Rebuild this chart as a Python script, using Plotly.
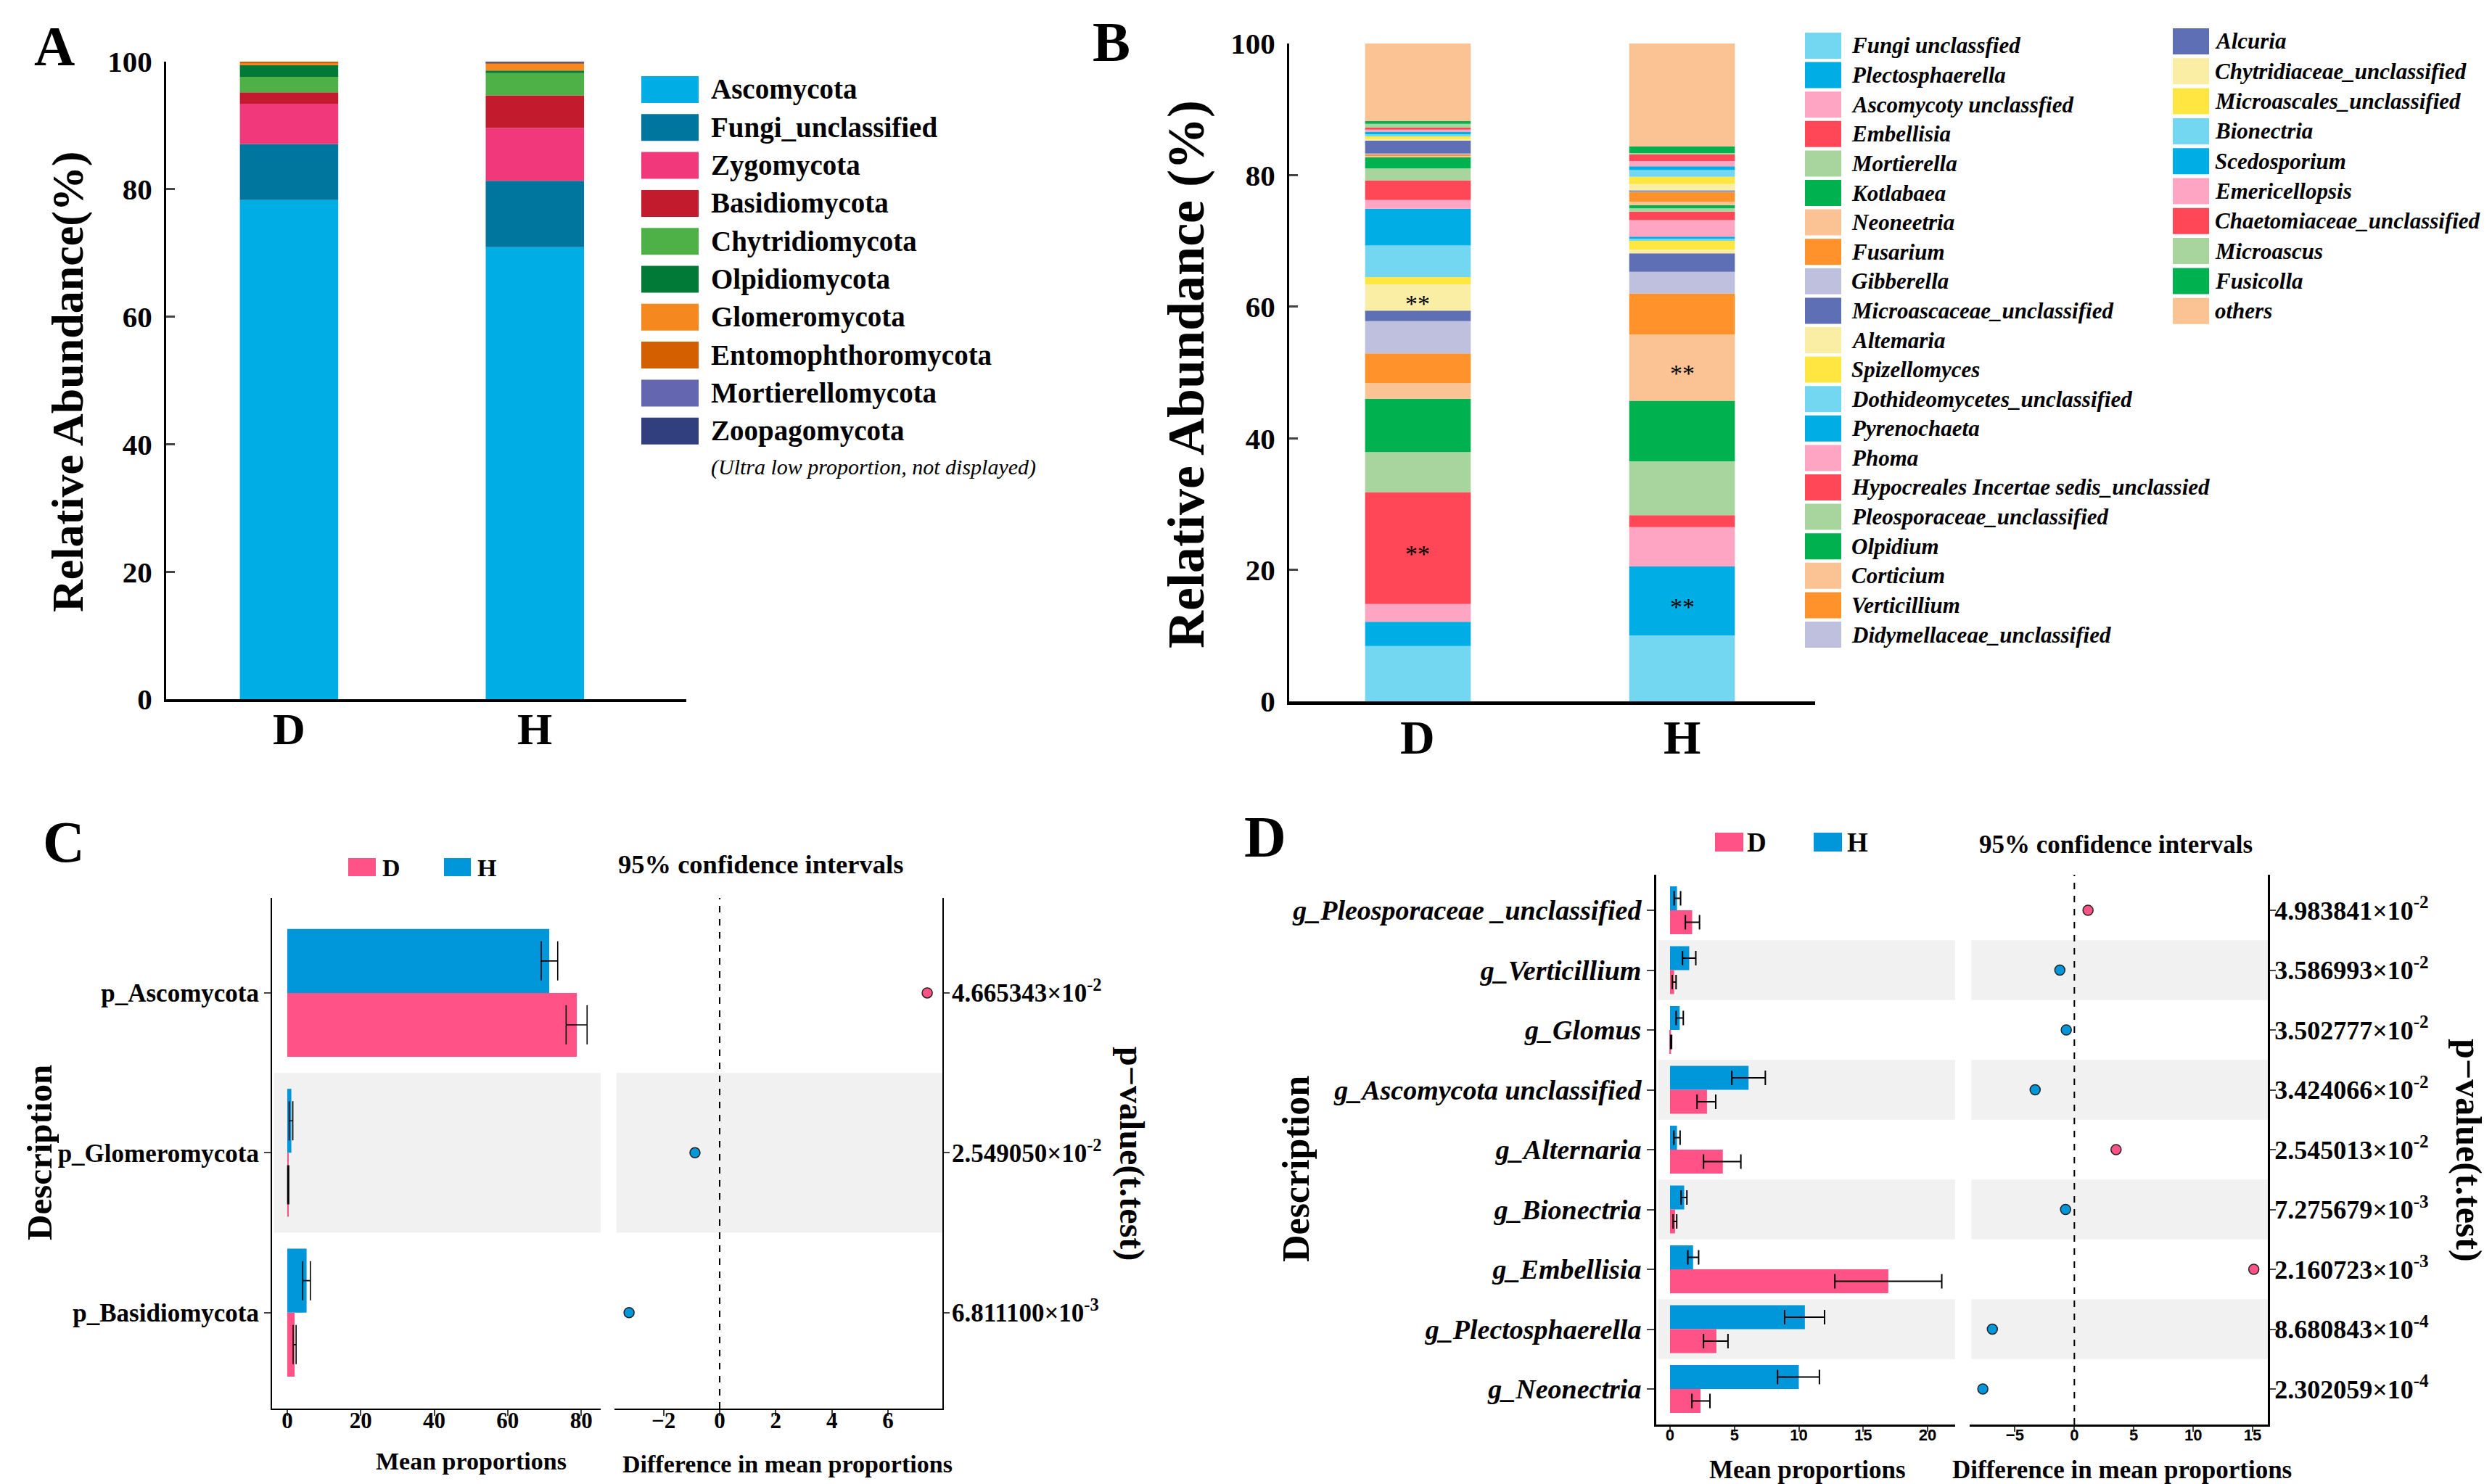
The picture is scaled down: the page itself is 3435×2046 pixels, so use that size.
import numpy as np
import plotly.graph_objects as go

W, H = 3435, 2046
SERIF = "Liberation Serif"
SANS = "Liberation Sans"

# ---------------- data ----------------
groups = ["D", "H"]

# Panel A: phylum-level relative abundance (%)
phyla = ["Ascomycota", "Fungi_unclassified", "Zygomycota", "Basidiomycota", "Chytridiomycota",
         "Olpidiomycota", "Glomeromycota", "Entomophthoromycota", "Mortierellomycota", "Zoopagomycota"]
phyla_colors = ["#00AEE6", "#00759E", "#F0387A", "#C21B2E", "#4DB148",
                "#007A36", "#F5881F", "#D35F00", "#6467B0", "#323F7E"]
phyla_D = [78.3, 8.8, 6.3, 1.8, 2.4, 1.9, 0.2, 0.3, 0.0, 0.0]
phyla_H = [70.9, 10.4, 8.3, 5.1, 3.5, 0.4, 1.1, 0.1, 0.1, 0.1]
phyla_note = "(Ultra low proportion, not displayed)"

# Panel B: genus-level relative abundance (%)
genera = ["Fungi unclassfied", "Plectosphaerella", "Ascomycoty unclassfied", "Embellisia", "Mortierella",
          "Kotlabaea", "Neoneetria", "Fusarium", "Gibberella", "Microascaceae_unclassified", "Altemaria",
          "Spizellomyces", "Dothideomycetes_unclassified", "Pyrenochaeta", "Phoma",
          "Hypocreales Incertae sedis_unclassied", "Pleosporaceae_unclassified", "Olpidium", "Corticium",
          "Verticillium", "Didymellaceae_unclassified", "Alcuria", "Chytridiaceae_unclassified",
          "Microascales_unclassified", "Bionectria", "Scedosporium", "Emericellopsis",
          "Chaetomiaceae_unclassified", "Microascus", "Fusicolla", "others"]
genera_colors = ["#74D7F2", "#00AEE6", "#FDA5C3", "#FF4757", "#A8D59D", "#00B14F", "#FBC294", "#FF922B",
                 "#BFC0DE", "#5F6FB5", "#FAEDA4", "#FFE640", "#74D7F2", "#00AEE6", "#FDA5C3", "#FF4757",
                 "#A8D59D", "#00B14F", "#FBC294", "#FF922B", "#BFC0DE", "#5F6FB5", "#FAEDA4", "#FFE640",
                 "#74D7F2", "#00AEE6", "#FDA5C3", "#FF4757", "#A8D59D", "#00B14F", "#FBC294"]
genera_D = [8.4, 3.7, 2.7, 17.0, 6.1, 8.1, 2.4, 4.5, 4.9, 1.6, 4.0, 1.1, 4.8, 5.6, 1.3, 3.0, 1.8, 1.7,
            0.2, 0.3, 0.1, 2.0, 0.2, 0.4, 0.3, 0.4, 0.3, 0.3, 0.6, 0.4, 11.8]
genera_H = [10.0, 10.5, 6.0, 1.8, 8.2, 9.2, 10.1, 6.2, 3.3, 2.8, 0.6, 1.3, 0.35, 0.3, 2.5, 1.3, 0.5, 0.5,
            0.5, 1.5, 0.1, 0.1, 1.0, 1.1, 1.0, 0.6, 0.8, 1.0, 0.2, 1.0, 15.65]
sig_marks = [("D", "Embellisia"), ("D", "Altemaria"), ("H", "Plectosphaerella"), ("H", "Neoneetria")]

# Panel C: phylum t-test
c_taxa = ["p_Ascomycota", "p_Glomeromycota", "p_Basidiomycota"]
c_mean_D = [78.8, 0.2, 2.0]
c_lo_D = [75.9, 0.1, 1.6]
c_hi_D = [81.6, 0.4, 2.4]
c_mean_H = [71.3, 1.1, 5.25]
c_lo_H = [69.1, 0.5, 4.2]
c_hi_H = [73.6, 1.5, 6.3]
c_diff = [7.4, -0.88, -3.23]
c_p_mant = ["4.665343", "2.549050", "6.811100"]
c_p_exp = [-2, -2, -3]

# Panel D: genus t-test
d_taxa = ["g_Pleosporaceae _unclassified", "g_Verticillium", "g_Glomus", "g_Ascomycota unclassified",
          "g_Alternaria", "g_Bionectria", "g_Embellisia", "g_Plectosphaerella", "g_Neonectria"]
d_mean_D = [1.72, 0.32, 0.08, 2.87, 4.1, 0.39, 16.95, 3.6, 2.37]
d_lo_D = [1.19, 0.17, 0.05, 2.1, 2.6, 0.24, 12.8, 2.6, 1.7]
d_hi_D = [2.29, 0.47, 0.12, 3.55, 5.5, 0.52, 21.1, 4.5, 3.1]
d_mean_H = [0.54, 1.49, 0.75, 6.1, 0.54, 1.1, 1.79, 10.47, 10.0]
d_lo_H = [0.32, 0.97, 0.47, 4.8, 0.3, 0.86, 1.38, 8.9, 8.35]
d_hi_H = [0.82, 2.0, 1.03, 7.4, 0.78, 1.31, 2.22, 12.0, 11.6]
d_diff = [1.15, -1.22, -0.68, -3.3, 3.51, -0.74, 15.1, -6.9, -7.7]
d_p_mant = ["4.983841", "3.586993", "3.502777", "3.424066", "2.545013", "7.275679", "2.160723",
            "8.680843", "2.302059"]
d_p_exp = [-2, -2, -2, -2, -2, -3, -3, -4, -4]

COL_D = "#FF5387"
COL_H = "#0096DA"
BAND = "#F1F1F1"


# ---------------- helpers ----------------
def px(x):
    return x / W


def py(y):
    return 1 - y / H


def font(size, bold=True, italic=False, family=SERIF):
    return dict(family=family, size=size, color="black",
                weight="bold" if bold else "normal", style="italic" if italic else "normal")


def ann(text, x, y, size, bold=True, italic=False, xanchor="center", yanchor="middle", angle=0,
        family=SERIF):
    return dict(text=text, x=px(x), y=py(y), xref="paper", yref="paper", showarrow=False,
                xanchor=xanchor, yanchor=yanchor, textangle=angle,
                font=font(size, bold, italic, family))


def rect(x0, y0, x1, y1, color):
    return dict(type="rect", xref="paper", yref="paper", x0=px(x0), x1=px(x1), y0=py(y1), y1=py(y0),
                fillcolor=color, line=dict(width=0), layer="above")


def ptext(m, e):
    return f"{m}×10<sup>{e}</sup>"


fig = go.Figure()
annotations = []
shapes = []

# ---------------- Panel A ----------------
xpos = np.arange(len(groups))
cumD, cumH = 0.0, 0.0
for name, col, vd, vh in zip(phyla, phyla_colors, phyla_D, phyla_H):
    fig.add_trace(go.Bar(x=xpos, y=[vd, vh], base=[cumD, cumH], width=0.4, marker=dict(color=col, line=dict(width=0)),
                         name=name, xaxis="x", yaxis="y", showlegend=False))
    cumD += vd
    cumH += vh

for i, (name, col) in enumerate(zip(phyla, phyla_colors)):
    cy = 115.5 + 52.3 * i
    shapes.append(rect(876, cy - 18.5, 955, cy + 18.5, col))
    annotations.append(ann(name, 970, cy, 39, xanchor="left"))
annotations.append(ann(phyla_note, 970, 636, 30, bold=False, italic=True, xanchor="left"))
annotations.append(ann("A", 67, 56, 78))
annotations.append(ann("Relative Abundance(%)", 85, 518, 62, angle=-90))
for i, g in enumerate(groups):
    annotations.append(dict(text=g, x=i, xref="x", y=py(997), yref="paper", showarrow=False,
                            xanchor="center", yanchor="middle", font=font(62)))

# ---------------- Panel B ----------------
gD = np.array(genera_D)
gH = np.array(genera_H)
baseD = np.concatenate([[0], np.cumsum(gD)[:-1]])
baseH = np.concatenate([[0], np.cumsum(gH)[:-1]])
for i, (name, col) in enumerate(zip(genera, genera_colors)):
    fig.add_trace(go.Bar(x=xpos, y=[gD[i], gH[i]], base=[baseD[i], baseH[i]], width=0.4,
                         marker=dict(color=col, line=dict(width=0)), name=name,
                         xaxis="x2", yaxis="y2", showlegend=False))
for g, name in sig_marks:
    k = genera.index(name)
    gi = groups.index(g)
    vals, bases = (gD, baseD) if g == "D" else (gH, baseH)
    annotations.append(dict(text="**", x=gi, y=bases[k] + vals[k] / 2, xref="x2", yref="y2",
                            showarrow=False, yshift=-8, font=font(34, bold=False)))
for i, g in enumerate(groups):
    annotations.append(dict(text=g, x=i, xref="x2", y=py(1008), yref="paper", showarrow=False,
                            xanchor="center", yanchor="middle", font=font(66)))

n1 = 21
for i, (name, col) in enumerate(zip(genera, genera_colors)):
    if i < n1:
        cy = 55 + 40.6 * i
        x0, tx = 2480, 2542
    else:
        cy = 49 + 41.3 * (i - n1)
        x0, tx = 2987, 3043
    shapes.append(rect(x0, cy - 18, x0 + 50, cy + 18, col))
    annotations.append(ann(name, tx, cy, 31, italic=True, xanchor="left"))
annotations.append(ann("B", 1524, 50, 78))
annotations.append(ann("Relative Abundance (%)", 1627, 508, 72, angle=-90))

# ---------------- Panel C ----------------
yc = np.arange(len(c_taxa))
mD, mH = np.array(c_mean_D), np.array(c_mean_H)
fig.add_trace(go.Bar(y=yc, x=mH, orientation="h", offset=-0.4, width=0.4, marker=dict(color=COL_H, line=dict(width=0)),
                     error_x=dict(type="data", symmetric=False, array=np.array(c_hi_H) - mH,
                                  arrayminus=mH - np.array(c_lo_H), color="black", thickness=1.6, width=27),
                     xaxis="x3", yaxis="y3", showlegend=False))
fig.add_trace(go.Bar(y=yc, x=mD, orientation="h", offset=0.0, width=0.4, marker=dict(color=COL_D, line=dict(width=0)),
                     error_x=dict(type="data", symmetric=False, array=np.array(c_hi_D) - mD,
                                  arrayminus=mD - np.array(c_lo_D), color="black", thickness=1.6, width=27),
                     xaxis="x3", yaxis="y3", showlegend=False))
fig.add_trace(go.Scatter(x=c_diff, y=yc, mode="markers",
                         marker=dict(size=14, color=[COL_D if v > 0 else COL_H for v in c_diff],
                                     line=dict(color="#222222", width=1.5)),
                         xaxis="x4", yaxis="y4", showlegend=False))
for i in range(len(c_taxa)):
    if i % 2 == 1:
        for xr in ("x3 domain", "x4 domain"):
            shapes.append(dict(type="rect", xref=xr, yref="y3", x0=0.006, x1=1, y0=i - 0.5, y1=i + 0.5,
                               fillcolor=BAND, line=dict(width=0), layer="below"))
shapes.append(dict(type="line", xref="x4", yref="y4 domain", x0=0, x1=0, y0=0, y1=1,
                   line=dict(color="black", width=2, dash="dash")))
shapes.append(rect(472, 1175, 510, 1200, COL_D))
shapes.append(rect(604, 1175, 641, 1200, COL_H))
annotations += [
    ann("D", 517, 1188, 34, xanchor="left"),
    ann("H", 648, 1188, 34, xanchor="left"),
    ann("95% confidence intervals", 1040, 1183, 36.5),
    ann("Mean proportions", 641, 2006, 34),
    ann("Difference in mean proportions", 1077, 2010, 34),
    ann("Description", 46, 1581, 49, angle=-90),
    ann("p−value(t.test)", 1552, 1582, 48, angle=90),
    ann("C", 80, 1153, 80),
]

# ---------------- Panel D ----------------
yd = np.arange(len(d_taxa))
mD2, mH2 = np.array(d_mean_D), np.array(d_mean_H)
fig.add_trace(go.Bar(y=yd, x=mH2, orientation="h", offset=-0.4, width=0.4, marker=dict(color=COL_H, line=dict(width=0)),
                     error_x=dict(type="data", symmetric=False, array=np.array(d_hi_H) - mH2,
                                  arrayminus=mH2 - np.array(d_lo_H), color="black", thickness=2, width=10),
                     xaxis="x5", yaxis="y5", showlegend=False))
fig.add_trace(go.Bar(y=yd, x=mD2, orientation="h", offset=0.0, width=0.4, marker=dict(color=COL_D, line=dict(width=0)),
                     error_x=dict(type="data", symmetric=False, array=np.array(d_hi_D) - mD2,
                                  arrayminus=mD2 - np.array(d_lo_D), color="black", thickness=2, width=10),
                     xaxis="x5", yaxis="y5", showlegend=False))
fig.add_trace(go.Scatter(x=d_diff, y=yd, mode="markers",
                         marker=dict(size=14, color=[COL_D if v > 0 else COL_H for v in d_diff],
                                     line=dict(color="#222222", width=1.5)),
                         xaxis="x6", yaxis="y6", showlegend=False))
for i in range(len(d_taxa)):
    if i % 2 == 1:
        for xr in ("x5 domain", "x6 domain"):
            shapes.append(dict(type="rect", xref=xr, yref="y5", x0=0.006, x1=1, y0=i - 0.5, y1=i + 0.5,
                               fillcolor=BAND, line=dict(width=0), layer="below"))
shapes.append(dict(type="line", xref="x6", yref="y6 domain", x0=0, x1=0, y0=0, y1=1,
                   line=dict(color="black", width=2, dash="dash")))
shapes.append(rect(2356, 1140, 2395, 1166, COL_D))
shapes.append(rect(2492, 1140, 2531, 1166, COL_H))
annotations += [
    ann("D", 2398, 1153, 37, xanchor="left"),
    ann("H", 2536, 1153, 37, xanchor="left"),
    ann("95% confidence intervals", 2908, 1156, 35),
    ann("Mean proportions", 2483, 2018, 35),
    ann("Difference in mean proportions", 2917, 2018, 35),
    ann("Description", 1778, 1604, 52, angle=-90),
    ann("p−value(t.test)", 3395, 1578, 50, angle=90),
    ann("D", 1736, 1146, 80),
]


# ---------------- axes ----------------
def base_axis(**kw):
    d = dict(showgrid=False, zeroline=False, automargin=False, showline=True, linecolor="black")
    d.update(kw)
    return d


layout_axes = dict(
    xaxis=base_axis(domain=[px(221), px(938)], anchor="y", range=[-0.5, 1.616], tickvals=list(xpos),
                    showticklabels=False, ticks="", linewidth=4),
    yaxis=base_axis(domain=[py(956), py(77)], anchor="x", range=[0, 100], tickvals=[0, 20, 40, 60, 80, 100],
                    ticks="inside", ticklen=12, tickwidth=3, linewidth=3, tickfont=font(41), ticklabelstandoff=8),
    xaxis2=base_axis(domain=[px(1769), px(2494)], anchor="y2", range=[-0.4875, 1.504], tickvals=list(xpos),
                     showticklabels=False, ticks="", linewidth=5),
    yaxis2=base_axis(domain=[py(959), py(52)], anchor="x2", range=[0, 100], tickvals=[0, 20, 40, 60, 80, 100],
                     ticks="inside", ticklen=12, tickwidth=3, linewidth=3, tickfont=font(41), ticklabelstandoff=8),
    xaxis3=base_axis(domain=[px(367), px(820)], anchor="y3", range=[-4.15, 85.3], tickvals=[0, 20, 40, 60, 80],
                     ticks="outside", ticklen=8, tickwidth=2, linewidth=2, tickfont=font(31),
                     ticklabelstandoff=-20),
    yaxis3=base_axis(domain=[py(1934), py(1230)], anchor="x3", range=[2.6, -0.594], tickvals=list(yc),
                     ticktext=c_taxa, ticks="outside", ticklen=9, tickwidth=2, linewidth=2, tickfont=font(35)),
    xaxis4=base_axis(domain=[px(839), px(1291)], anchor="y4", range=[-3.75, 7.94], tickvals=[-2, 0, 2, 4, 6],
                     ticks="outside", ticklen=8, tickwidth=2, linewidth=2, tickfont=font(31),
                     ticklabelstandoff=-20),
    yaxis4=base_axis(domain=[py(1934), py(1230)], anchor="x4", side="right", range=[2.6, -0.594],
                     tickvals=list(yc), ticktext=[ptext(m, e) for m, e in zip(c_p_mant, c_p_exp)],
                     ticks="outside", ticklen=8, tickwidth=2, linewidth=2, tickfont=font(35),
                     ticklabelstandoff=-4),
    xaxis5=base_axis(domain=[px(2275), px(2687)], anchor="y5", range=[-1.07, 22.14], tickvals=[0, 5, 10, 15, 20],
                     ticks="outside", ticklen=7, tickwidth=2, linewidth=3, tickfont=font(22, family=SANS),
                     ticklabelstandoff=-14),
    yaxis5=base_axis(domain=[py(1956), py(1198)], anchor="x5", range=[8.594, -0.594], tickvals=list(yd),
                     ticktext=d_taxa, ticks="outside", ticklen=10, tickwidth=2, linewidth=3,
                     tickfont=font(38, italic=True)),
    xaxis6=base_axis(domain=[px(2707), px(3118)], anchor="y6", range=[-8.81, 16.28],
                     tickvals=[-5, 0, 5, 10, 15], ticks="outside", ticklen=7, tickwidth=2, linewidth=3,
                     tickfont=font(22, family=SANS), ticklabelstandoff=-14),
    yaxis6=base_axis(domain=[py(1956), py(1198)], anchor="x6", side="right", range=[8.594, -0.594],
                     tickvals=list(yd), ticktext=[ptext(m, e) for m, e in zip(d_p_mant, d_p_exp)],
                     ticks="outside", ticklen=8, tickwidth=2, linewidth=3, tickfont=font(36),
                     ticklabelstandoff=-9),
)

fig.update_layout(
    width=W, height=H, autosize=False,
    margin=dict(l=0, r=0, t=0, b=0, pad=0),
    paper_bgcolor="white", plot_bgcolor="rgba(0,0,0,0)",
    barmode="overlay", showlegend=False,
    font=dict(family=SERIF, color="black"),
    annotations=annotations, shapes=shapes,
    **layout_axes,
)

fig.write_html("out.html")
